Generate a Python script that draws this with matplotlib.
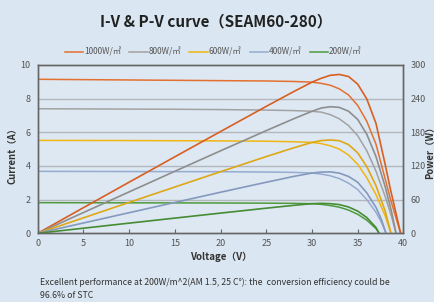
import matplotlib.pyplot as plt
import numpy as np

plt.rcParams['font.family'] = ['Noto Sans CJK SC', 'DejaVu Sans']

labels = ['1000W/㎡', '800W/㎡', '600W/㎡', '400W/㎡', '200W/㎡']
colors = ['#e4702f', '#a2a2a2', '#f0b612', '#95abcf', '#4f9a3c']
pcolors = ['#d85f22', '#8e8e8e', '#dfa716', '#8599bd', '#468c33']

# voltage (V) and current (A)
v1000 = [0, 5, 10, 15, 20, 25, 28, 30, 31, 32, 33, 34, 35, 36, 37, 38, 38.6, 39.2, 39.7]
i1000 = [9.15, 9.13, 9.11, 9.09, 9.07, 9.05, 9.02, 8.98, 8.91, 8.8, 8.58, 8.22, 7.6, 6.65, 5.3, 3.25, 2.0, 0.9, 0]
v800 = [0, 5, 10, 15, 20, 25, 28, 30, 31, 32, 33, 34, 35, 36, 37, 38, 38.7, 39.2]
i800 = [7.4, 7.39, 7.38, 7.37, 7.35, 7.32, 7.29, 7.25, 7.2, 7.05, 6.8, 6.4, 5.8, 4.9, 3.7, 2.2, 1.0, 0]
v600 = [0, 5, 10, 15, 20, 25, 28, 30, 31, 32, 33, 34, 35, 36, 37, 38, 38.65]
i600 = [5.52, 5.515, 5.51, 5.5, 5.49, 5.47, 5.44, 5.4, 5.33, 5.2, 5.0, 4.65, 4.1, 3.3, 2.3, 1.05, 0]
v400 = [0, 5, 10, 15, 20, 25, 28, 30, 31, 32, 33, 34, 35, 36, 37, 37.6, 38.1]
i400 = [3.68, 3.675, 3.67, 3.665, 3.66, 3.64, 3.62, 3.58, 3.52, 3.42, 3.25, 2.98, 2.6, 2.0, 1.25, 0.65, 0]
v200 = [0, 5, 10, 15, 20, 25, 28, 30, 31, 32, 33, 34, 35, 36, 37, 37.35]
i200 = [1.82, 1.815, 1.81, 1.805, 1.8, 1.79, 1.78, 1.76, 1.72, 1.65, 1.55, 1.38, 1.13, 0.78, 0.28, 0]

volts = [v1000, v800, v600, v400, v200]
amps = [i1000, i800, i600, i400, i200]

fig = plt.figure(figsize=(4.35, 3.02), dpi=100)
fig.patch.set_facecolor('#dae6f1')
ax = fig.add_axes([0.0867, 0.2275, 0.8406, 0.5573])
ax.set_facecolor('#dde8f3')
ax2 = ax.twinx()

for v, i, c, pc, lab in zip(volts, amps, colors, pcolors, labels):
    v = np.array(v)
    i = np.array(i)
    ax.plot(v, i, color=c, lw=1.1, label=lab)
    ax2.plot(v, v * i, color=pc, lw=1.2)

ax.set_xlim(0, 40)
ax.set_ylim(0, 10)
ax2.set_ylim(0, 300)
ax.set_xticks(range(0, 41, 5))
ax.set_yticks(range(0, 11, 2))
ax2.set_yticks(range(0, 301, 60))
for y in [2, 4, 6, 8]:
    ax.axhline(y, color='#b4b8bc', lw=1.0, zorder=0)

for a in (ax, ax2):
    for s in a.spines.values():
        s.set_color('#666666')
        s.set_linewidth(1.0)
ax.tick_params(axis='y', length=0, labelsize=6.5, labelcolor='#555555', pad=5)
ax.tick_params(axis='x', length=3, direction='in', color='#666666',
               labelsize=6.5, labelcolor='#555555', pad=4)
ax2.tick_params(axis='y', length=0, labelsize=6.5, labelcolor='#555555', pad=5)

ax.set_xlabel('Voltage（V）', fontsize=7, fontweight='bold', color='#333333', labelpad=3)
fig.text(0.03, 0.493, 'Current（A）', rotation=90, ha='center', va='center',
         fontsize=6.8, fontweight='bold', color='#333333')
fig.text(0.99, 0.503, 'Power（W）', rotation=90, ha='center', va='center',
         fontsize=6.8, fontweight='bold', color='#333333')

fig.text(0.497, 0.93, 'I-V & P-V curve（SEAM60-280）', ha='center', va='center',
         fontsize=11, fontweight='bold', color='#222222')
leg = fig.legend(loc='center', bbox_to_anchor=(0.49, 0.828), ncol=5, frameon=False,
                 fontsize=6, handlelength=2.2, handletextpad=0.1, columnspacing=1.0)
for t in leg.get_texts():
    t.set_color('#555555')

fig.text(0.092, 0.066, 'Excellent performance at 200W/m^2(AM 1.5, 25 C°): the  conversion efficiency could be',
         fontsize=6.3, color='#333333', va='center')
fig.text(0.092, 0.02, '96.6% of STC', fontsize=6.3, color='#333333', va='center')

fig.savefig('out.png', dpi=100, facecolor=fig.get_facecolor())
